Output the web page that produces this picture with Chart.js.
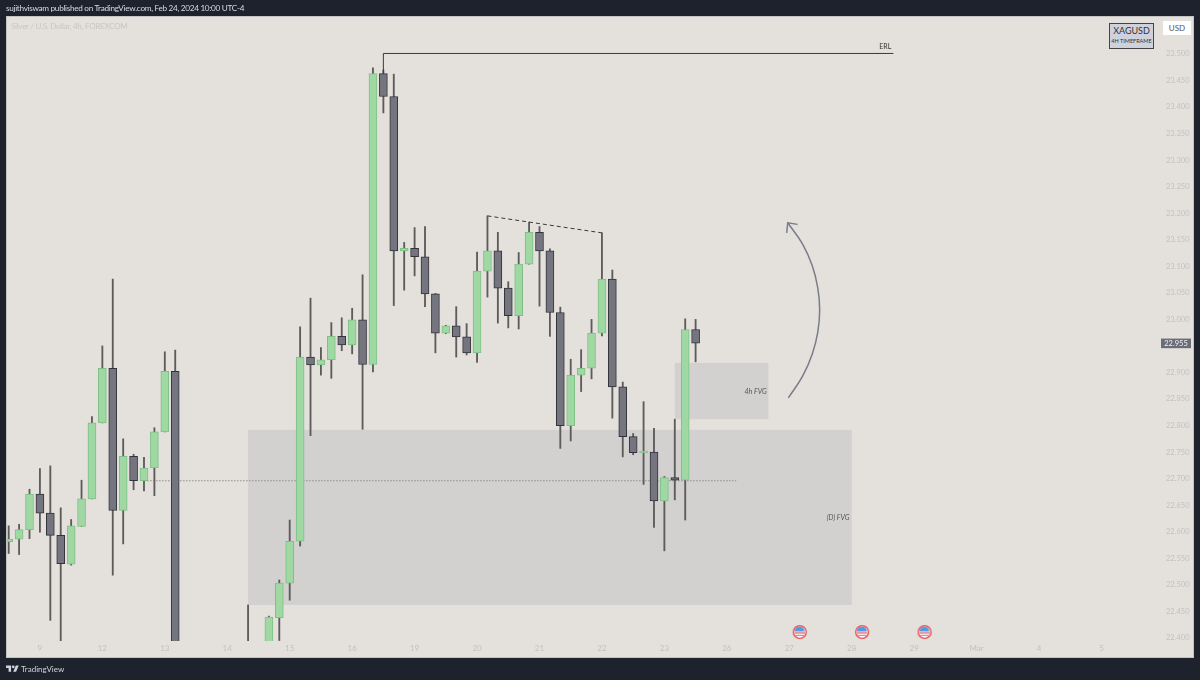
<!DOCTYPE html>
<html>
<head>
<meta charset="utf-8">
<title>XAGUSD 4h</title>
<script src="https://cdn.jsdelivr.net/npm/chart.js@4/dist/chart.umd.min.js"></script>
<style>
  html, body { margin: 0; padding: 0; background: #1e222d; }
  body { width: 1200px; height: 680px; position: relative; overflow: hidden; font-family: Lato, sans-serif; }
  canvas { position: absolute; left: 0; top: 0; }
  .txt { position: absolute; white-space: nowrap; }
  #head { left: 6px; top: 3px; font-size: 8.2px; letter-spacing: -0.3px; line-height: 11px; color: #d8dbe2; }
  #symbol { left: 11px; top: 21px; font-size: 8px; letter-spacing: -0.25px; line-height: 10px; color: #c6c6c4; }
  #badge { left: 1109px; top: 23px; width: 43px; height: 24px; background: #cfd2dc; border: 1px solid #444; color: #333; text-align: center; }
  #badge b { display: block; font-weight: normal; font-size: 9px; line-height: 12px; margin-top: 1px; }
  #badge i { display: block; font-style: normal; font-size: 5.5px; line-height: 8px; }
  #usd { left: 1163px; top: 21px; width: 28px; height: 14px; line-height: 14px; background: #fff; color: #555; font-size: 8px; text-align: center; }
  #logo { left: 6px; top: 664px; }
  #brand { left: 21px; top: 663px; font-size: 8px; line-height: 12px; color: #d1d4dc; }
</style>
</head>
<body>
<canvas id="chart" width="1200" height="680"></canvas>
<div class="txt" id="head">sujithviswam published on TradingView.com, Feb 24, 2024 10:00 UTC-4</div>
<div class="txt" id="symbol">Silver / U.S. Dollar, 4h, FOREXCOM</div>
<div class="txt" id="badge"><b>XAGUSD</b><i>4H TIMEFRAME</i></div>
<div class="txt" id="usd">USD</div>
<svg class="txt" id="logo" width="13" height="10" viewBox="0 0 36 28"><path fill="#d1d4dc" d="M14 22H7V11H0V4h14v18zM28 22h-8l7.5-18h8L28 22z"/><circle fill="#d1d4dc" cx="20" cy="8" r="4"/></svg>
<div class="txt" id="brand">TradingView</div>

<script>
// 4h candles, one slot per bar; null = the candle sits fully below the visible range
const opens = [
  22.581, 22.586, 22.604, 22.671, 22.635, 22.593, 22.539, 22.610, 22.662, 22.805,
  22.908, 22.640, 22.742, 22.696, 22.720, 22.788, 22.902, null, null, null,
  null, null, null, 22.34, null, 22.35, 22.438, 22.503, 22.582, 22.929,
  22.914, 22.924, 22.968, 22.952, 22.999, 22.915, 23.463, 23.420, 23.129, 23.134,
  23.118, 23.048, 22.974, 22.988, 22.967, 22.937, 23.091, 23.129, 23.059, 23.007,
  23.104, 23.164, 23.129, 23.013, 22.800, 22.895, 22.908, 22.974, 23.076, 22.873,
  22.779, 22.749, 22.750, 22.658, 22.702, 22.697, 22.981
];
const highs = [
  22.611, 22.614, 22.680, 22.719, 22.724, 22.645, 22.623, 22.697, 22.817, 22.950,
  23.076, 22.775, 22.746, 22.740, 22.796, 22.939, 22.942, null, null, null,
  null, null, null, 22.462, null, 22.441, 22.509, 22.622, 22.986, 23.040,
  22.947, 22.994, 23.003, 23.021, 23.084, 23.474, 23.470, 23.462, 23.145, 23.173,
  23.175, 23.049, 22.989, 23.024, 22.992, 23.127, 23.195, 23.164, 23.071, 23.126,
  23.183, 23.175, 23.133, 23.023, 22.925, 22.943, 23.000, 23.163, 23.093, 22.882,
  22.785, 22.845, 22.795, 22.704, 22.812, 23.001, 23.000
];
const lows = [
  22.559, 22.557, 22.587, 22.599, 22.433, 22.390, 22.537, 22.610, 22.662, 22.805,
  22.518, 22.577, 22.679, 22.677, 22.668, 22.788, 22.280, null, null, null,
  null, null, null, 22.30, null, 22.33, 22.395, 22.471, 22.573, 22.781,
  22.895, 22.889, 22.941, 22.935, 22.793, 22.901, 23.389, 23.026, 23.055, 23.082,
  23.024, 22.937, 22.973, 22.929, 22.933, 22.919, 23.042, 22.993, 22.984, 22.982,
  23.104, 23.025, 22.968, 22.757, 22.771, 22.864, 22.888, 22.969, 22.814, 22.741,
  22.745, 22.689, 22.608, 22.564, 22.660, 22.622, 22.920
];
const closes = [
  22.586, 22.604, 22.671, 22.635, 22.593, 22.540, 22.611, 22.662, 22.805, 22.908,
  22.640, 22.742, 22.696, 22.720, 22.788, 22.902, 22.300, null, null, null,
  null, null, null, 22.38, null, 22.439, 22.503, 22.582, 22.929, 22.914,
  22.924, 22.968, 22.952, 22.999, 22.915, 23.463, 23.420, 23.129, 23.134, 23.118,
  23.048, 22.974, 22.988, 22.967, 22.937, 23.091, 23.129, 23.059, 23.007, 23.104,
  23.164, 23.129, 23.013, 22.800, 22.895, 22.908, 22.974, 23.076, 22.873, 22.779,
  22.749, 22.752, 22.658, 22.702, 22.697, 22.981, 22.955
];

const priceTicks = [22.4, 22.45, 22.5, 22.55, 22.6, 22.65, 22.7, 22.75, 22.8, 22.85, 22.9, 22.95,
  23.0, 23.05, 23.1, 23.15, 23.2, 23.25, 23.3, 23.35, 23.4, 23.45, 23.5];
const dayLabels = ['9', '12', '13', '14', '15', '16', '19', '20', '21', '22', '23', '26', '27', '28', '29', 'Mar', '4', '5'];
const dayBars = [3, 9, 15, 21, 27, 33, 39, 45, 51, 57, 63, 69, 75, 81, 87, 93, 99, 105];
const lastPrice = 22.955;

// drawings, in bar index / price
const erlX = [36, 36, 85];
const erlY = [23.463, 23.501, 23.501];
const trendX = [46, 57];
const trendY = [23.195, 23.163];
const dottedX = [13.3, 69.9];
const dottedY = [22.696, 22.696];
const arrowX = [74.91, 76.28, 77.21, 77.74, 77.92, 77.74, 77.21, 76.28, 74.85];
const arrowY = [22.852, 22.893, 22.935, 22.976, 23.018, 23.059, 23.101, 23.142, 23.182];
const arrowHeadX = [74.75, 74.85, 75.8];
const arrowHeadY = [23.163, 23.182, 23.179];
const newsBars = [76, 82, 88];
const newsPrice = 22.411;
const zones = [
  { x1: 23, x2: 81, top: 22.792, bottom: 22.462 },
  { x1: 64, x2: 73, top: 22.918, bottom: 22.812 }
];
const notes = [
  { text: 'ERL', x: 83.65, y: 23.513, font: '7px Lato', color: '#333' },
  { text: '4h FVG', x: 70.7, y: 22.863, font: 'italic 7px Lato', color: '#555' },
  { text: '(D) FVG', x: 78.6, y: 22.626, font: 'italic 7px Lato', color: '#555' }
];

const upFill = '#9fd8a2', upEdge = '#7fc086', downFill = '#74757f', downEdge = '#33333b', wickColor = '#5e5b5b';

function pairs(xs, ys) {
  return xs.map((x, i) => ({ x, y: ys[i] }));
}

// candle parts: skip the empty slots
const slots = opens.map((_, i) => i).filter(i => opens[i] !== null);
const isUp = i => closes[i] >= opens[i];

// little US flag marker for the economic calendar
function flagIcon() {
  const c = document.createElement('canvas');
  c.width = 16; c.height = 16;
  const g = c.getContext('2d');
  g.beginPath(); g.arc(8, 8, 6.4, 0, Math.PI * 2); g.fillStyle = '#fff'; g.fill();
  g.fillStyle = '#4f9be8'; g.beginPath(); g.arc(7.8, 7.6, 5, Math.PI, Math.PI * 2); g.fill();
  g.fillStyle = '#d9505a'; g.fillRect(3, 8.4, 10, 1.1);
  g.fillStyle = '#e8717a'; g.fillRect(4, 10.8, 8, 1.1);
  g.beginPath(); g.arc(8, 8, 6.4, 0, Math.PI * 2); g.strokeStyle = '#e84a50'; g.lineWidth = 1.4; g.stroke();
  return c;
}

const framePlugin = {
  id: 'frame',
  beforeDraw(chart) {
    const { ctx } = chart;
    ctx.save();
    ctx.fillStyle = '#e4e1dc';
    ctx.fillRect(7, 17, 1187, 641);
    ctx.strokeStyle = '#c4c4c4';
    ctx.strokeRect(6.5, 16.5, 1187, 641);
    ctx.restore();
  },
  beforeDatasetsDraw(chart) {
    const { ctx, scales: { x, y } } = chart;
    ctx.save();
    ctx.fillStyle = '#d2d1d0';
    zones.forEach(z => {
      ctx.fillRect(x.getPixelForValue(z.x1), y.getPixelForValue(z.top),
        x.getPixelForValue(z.x2) - x.getPixelForValue(z.x1), y.getPixelForValue(z.bottom) - y.getPixelForValue(z.top));
    });
    ctx.restore();
  },
  afterDatasetsDraw(chart) {
    const { ctx, scales: { x, y } } = chart;
    ctx.save();
    ctx.textAlign = 'left';
    ctx.textBaseline = 'middle';
    notes.forEach(n => {
      ctx.font = n.font;
      ctx.fillStyle = n.color;
      ctx.fillText(n.text, x.getPixelForValue(n.x), y.getPixelForValue(n.y));
    });
    // last price tag on the axis
    const py = y.getPixelForValue(lastPrice);
    ctx.fillStyle = '#6b6e7a';
    ctx.fillRect(1161, py - 4.7, 30, 9.6);
    ctx.fillStyle = '#f2f2f2';
    ctx.font = '7.5px Lato';
    ctx.textAlign = 'center';
    ctx.fillText(lastPrice.toFixed(3), 1176, py + 0.5);
    ctx.restore();
  }
};

// first candle hangs over the left edge of the plot, let it reach the frame
const candleClip = { left: 2, right: 0, top: 0, bottom: 0 };

new Chart(document.getElementById('chart'), {
  type: 'bar',
  data: {
    datasets: [
      {
        type: 'line', data: pairs(dottedX, dottedY), borderColor: '#8c8c8a', borderWidth: 1,
        borderDash: [1.5, 1.5], pointRadius: 0, order: 5
      },
      {
        data: slots.map(i => ({ x: i, y: [lows[i], highs[i]] })),
        backgroundColor: wickColor, borderWidth: 0, barThickness: 1.2, grouped: false, clip: candleClip, order: 4
      },
      {
        data: slots.map(i => ({ x: i, y: [opens[i], closes[i]] })),
        backgroundColor: slots.map(i => isUp(i) ? upFill : downFill),
        borderColor: slots.map(i => isUp(i) ? upEdge : downEdge),
        borderWidth: 1, borderSkipped: false, barThickness: 8, grouped: false, clip: candleClip, order: 3
      },
      {
        type: 'line', data: pairs(erlX, erlY), borderColor: '#3a3a3a', borderWidth: 1,
        pointRadius: 0, order: 2
      },
      {
        type: 'line', data: pairs(trendX, trendY), borderColor: '#3a3a3a', borderWidth: 1,
        borderDash: [4, 3], pointRadius: 0, order: 2
      },
      {
        type: 'line', data: pairs(arrowX, arrowY), borderColor: '#797d88', borderWidth: 1.5,
        tension: 0.4, pointRadius: 0, order: 2
      },
      {
        type: 'line', data: pairs(arrowHeadX, arrowHeadY), borderColor: '#797d88', borderWidth: 1.5,
        pointRadius: 0, order: 2
      },
      {
        type: 'scatter', data: newsBars.map(b => ({ x: b, y: newsPrice })),
        pointStyle: flagIcon(), pointRadius: 8, order: 1
      }
    ]
  },
  options: {
    responsive: false,
    animation: false,
    events: [],
    layout: { padding: { left: 7, right: 6, top: 17, bottom: 22 } },
    plugins: { legend: { display: false }, tooltip: { enabled: false } },
    scales: {
      x: {
        type: 'linear',
        offset: false,
        min: 0.03,
        max: 109.85,
        grid: { display: false, drawTicks: false },
        border: { display: false },
        afterFit: s => { s.height = 17; s.paddingLeft = 0; s.paddingRight = 0; },
        afterBuildTicks: s => { s.ticks = dayBars.map(value => ({ value })); },
        ticks: {
          autoSkip: false,
          maxRotation: 0,
          padding: 3,
          color: '#c0c1c6',
          font: { family: 'Lato', size: 8 },
          callback: v => dayLabels[dayBars.indexOf(v)]
        }
      },
      y: {
        position: 'right',
        min: 22.3941,
        max: 23.5697,
        grid: { display: false, drawTicks: false },
        border: { display: false },
        afterFit: s => { s.width = 42; s.paddingTop = 0; s.paddingBottom = 0; },
        afterBuildTicks: s => { s.ticks = priceTicks.map(value => ({ value })); },
        ticks: {
          autoSkip: false,
          padding: 14,
          color: '#c0c1c6',
          font: { family: 'Lato', size: 7.5 },
          callback: v => v.toFixed(3)
        }
      }
    }
  },
  plugins: [framePlugin]
});
</script>
</body>
</html>
